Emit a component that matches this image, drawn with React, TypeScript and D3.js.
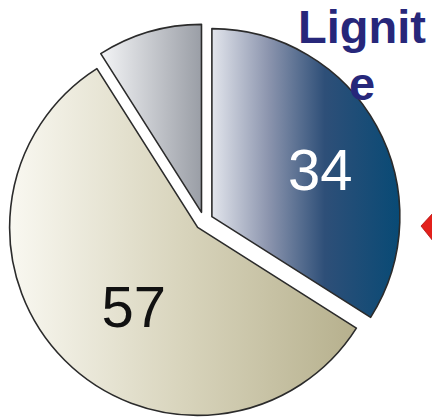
import React from "react";
import * as d3 from "d3";

const categories = ["Lignite", "Other", "Rest"];
const values = [34, 57, 9];
const labels = ["34", "57", ""];
const titleLines = ["Lignit", "e"];

const W = 432;
const H = 418;
const cx = 204;
const cy = 221;
const R = 188;
const explode = 9;

const gradients = [
  [
    [0, "#e2e5ec"],
    [0.3, "#8c95ae"],
    [0.6, "#2e4f78"],
    [1, "#084a75"],
  ],
  [
    [0, "#f9f8f1"],
    [0.5, "#d8d4bc"],
    [1, "#b6b08d"],
  ],
  [
    [0, "#f3f4f6"],
    [1, "#9a9ea6"],
  ],
];
const labelColors = ["#ffffff", "#111111", "#111111"];
const labelRadius = [0.63, 0.54, 0.5];
const labelNudge = [5, -6, 0];

export default function App() {
  const pie = d3
    .pie<number>()
    .sort(null)
    .startAngle(0)
    .endAngle(2 * Math.PI)
    .value((d) => d);
  const arcs = pie(values);
  const arc = d3.arc<d3.PieArcDatum<number>>().innerRadius(0).outerRadius(R);

  return (
    <svg
      width={W}
      height={H}
      style={{ position: "absolute", left: 0, top: 0, background: "#fff" }}
      fontFamily="'Liberation Sans', Arial, sans-serif"
    >
      <defs>
        {gradients.map((g, i) => (
          <linearGradient key={i} id={`g${i}`} x1="0" y1="0" x2="1" y2="0">
            {g.map(([o, c], j) => (
              <stop key={j} offset={o as number} stopColor={c as string} />
            ))}
          </linearGradient>
        ))}
      </defs>
      <rect width={W} height={H} fill="#fff" />
      {arcs.map((a, i) => {
        const mid = (a.startAngle + a.endAngle) / 2;
        const ox = cx + explode * Math.sin(mid);
        const oy = cy - explode * Math.cos(mid);
        const la = mid + (labelNudge[i] * Math.PI) / 180;
        const lr = labelRadius[i] * R;
        const lx = lr * Math.sin(la);
        const ly = -lr * Math.cos(la);
        return (
          <g key={categories[i]} transform={`translate(${ox},${oy})`}>
            <path
              d={arc(a) || ""}
              fill={`url(#g${i})`}
              stroke="#2b2b2b"
              strokeWidth={1.6}
              strokeLinejoin="round"
            />
            {labels[i] && (
              <text
                x={lx}
                y={ly}
                dy="0.36em"
                textAnchor="middle"
                fontSize={58}
                fill={labelColors[i]}
              >
                {labels[i]}
              </text>
            )}
          </g>
        );
      })}
      <g fill="#27277a" fontWeight="bold" fontSize={47} textAnchor="middle">
        {titleLines.map((t, i) => (
          <text key={i} x={362} y={43 + i * 57}>
            {t}
          </text>
        ))}
      </g>
      <polygon
        points="433,213 421,226 433,241"
        fill="#e3201b"
        stroke="#b01010"
        strokeWidth={0.8}
      />
    </svg>
  );
}
